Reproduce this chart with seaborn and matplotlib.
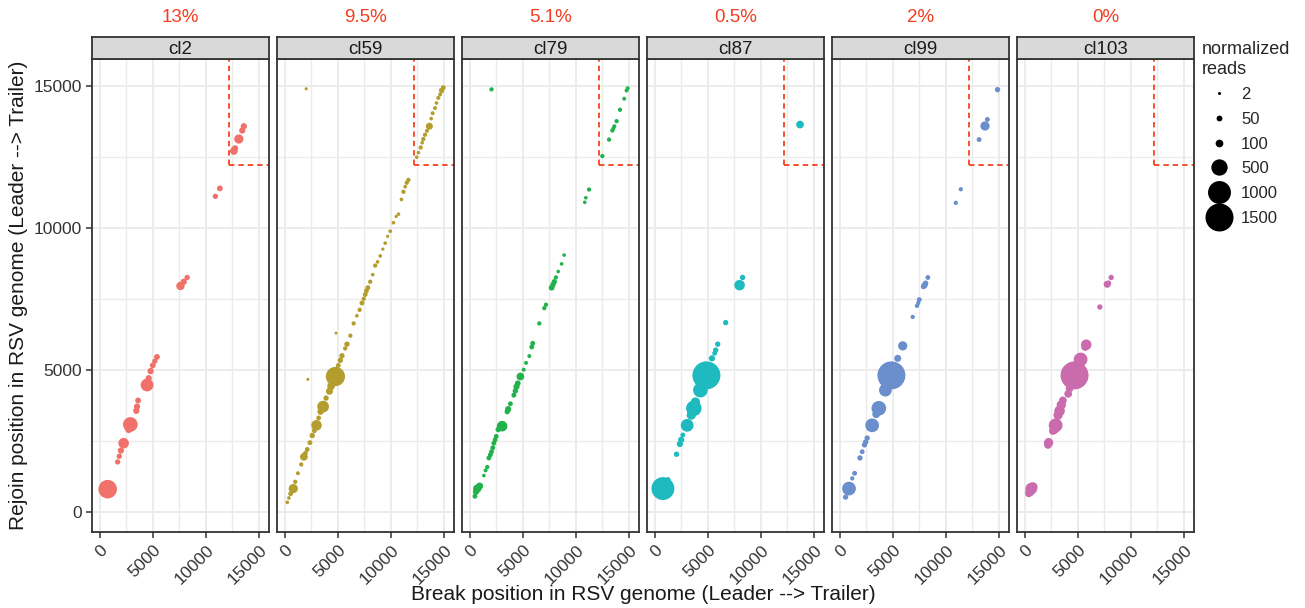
import numpy as np
import pandas as pd
import matplotlib
matplotlib.use("Agg")
import matplotlib.pyplot as plt
from matplotlib.lines import Line2D
import seaborn as sns

# --- Daten ---
clusters = ["cl2", "cl59", "cl79", "cl87", "cl99", "cl103"]
percent_labels = ["13%", "9.5%", "5.1%", "0.5%", "2%", "0%"]
colors = ["#F0716A", "#B39D2E", "#22B24C", "#1EBABF", "#6B8FCC", "#C96BAC"]

cl2_break = [755, 1700, 1850, 2000, 2260, 2740, 2890, 3450, 3520, 3620, 4300, 4465, 4620, 4800,
             5000, 5200, 5400, 7610, 7920, 8240, 10900, 11320, 12640, 12750, 13110, 13430, 13580]
cl2_rejoin = [790, 1750, 1950, 2150, 2410, 2890, 3070, 3550, 3700, 3915, 4400, 4460, 4700, 4950,
              5150, 5300, 5450, 7950, 8100, 8250, 11110, 11390, 12710, 12800, 13130, 13430, 13580]
cl2_reads = [650, 40, 40, 60, 200, 80, 400, 60, 60, 50, 80, 300, 60, 60,
             50, 40, 50, 120, 60, 40, 40, 50, 100, 60, 150, 60, 60]

cl59_break = [2030, 4840, 2190, 250, 400, 560, 810, 1000, 1250, 1560, 1810, 1950, 2130, 2380, 2600,
              2800, 3000, 3200, 3375, 3625, 3900, 4220, 4375, 4780, 5050, 5250, 5400, 5700, 5870,
              6190, 6500, 6800, 7060, 7280, 7450, 7590, 7700, 7840, 8060, 8300, 8530, 8750, 9000,
              9250, 9470, 9700, 9940, 10250, 10500, 10720, 11000, 11190, 11350, 11500, 11660,
              12440, 12600, 12810, 12950, 13060, 13220, 13400, 13630, 13800, 13940, 14160, 14300,
              14470, 14650, 14780, 14940]
cl59_rejoin = [14900, 6290, 4660, 325, 480, 630, 810, 1050, 1350, 1660, 1930, 2050, 2190, 2430, 2680,
               2850, 3040, 3300, 3520, 3700, 4000, 4240, 4420, 4760, 5150, 5330, 5490, 5750, 5900,
               6200, 6630, 6900, 7110, 7350, 7500, 7650, 7780, 7890, 8100, 8350, 8670, 8800, 9010,
               9250, 9460, 9700, 9880, 10180, 10400, 10480, 11000, 11270, 11450, 11590, 11690,
               12490, 12650, 12830, 13000, 13130, 13280, 13420, 13580, 13850, 14040, 14220, 14400,
               14580, 14700, 14840, 14940]
cl59_reads = [4, 2, 2, 10, 10, 30, 150, 20, 15, 20, 100, 30, 30, 30, 40,
              30, 200, 30, 60, 250, 40, 80, 100, 700, 30, 40, 40, 20, 40,
              20, 20, 10, 20, 30, 20, 30, 30, 30, 20, 10, 20, 10, 10,
              5, 10, 5, 10, 10, 5, 10, 10, 20, 10, 20, 20,
              10, 10, 20, 10, 20, 20, 15, 80, 10, 15, 15, 10,
              15, 15, 40, 30]

cl79_break = [2060, 500, 600, 720, 940, 1340, 1500, 1660, 1810, 1950, 2060, 2180, 2280, 2400, 2500,
              2690, 3060, 3540, 3625, 3840, 4160, 4300, 4410, 4530, 4780, 5090, 5310, 5620, 5850,
              5940, 6560, 7030, 7190, 7720, 7850, 7970, 8120, 8340, 8660, 8900, 10840, 10940,
              11250, 12500, 13130, 13440, 13540, 13630, 13840, 14160, 14560, 14780, 14880]
cl79_rejoin = [14880, 540, 700, 810, 900, 1270, 1450, 1570, 1890, 2000, 2110, 2250, 2410, 2530, 2650,
               2890, 3010, 3520, 3610, 3800, 4100, 4250, 4400, 4520, 4760, 5000, 5240, 5480, 5800,
               5930, 6630, 7170, 7290, 7890, 8000, 8100, 8250, 8460, 8730, 9040, 10900, 11060,
               11350, 12530, 13110, 13430, 13500, 13580, 13760, 14160, 14550, 14840, 14920]
cl79_reads = [20, 30, 60, 120, 80, 10, 15, 20, 30, 30, 30, 30, 30, 30, 30,
              40, 200, 40, 60, 30, 30, 40, 60, 50, 100, 15, 15, 15, 30,
              30, 20, 20, 20, 50, 40, 40, 20, 10, 10, 10, 10, 10,
              20, 20, 20, 20, 15, 15, 20, 20, 15, 15, 15]

cl87_break = [13690, 780, 1250, 2060, 2375, 2500, 2650, 3060, 3450, 3690, 3840, 4310, 4875,
              5400, 5650, 5750, 5940, 6690, 8000, 8280]
cl87_rejoin = [13640, 810, 1120, 2020, 2380, 2530, 2700, 3040, 3400, 3640, 3860, 4280, 4800,
               5400, 5580, 5690, 5900, 6660, 7980, 8250]
cl87_reads = [100, 1000, 40, 40, 60, 60, 30, 300, 150, 450, 150, 400, 1500,
              60, 30, 40, 40, 40, 200, 40]

cl99_break = [14870, 13690, 13910, 13130, 10940, 11410, 8310, 8100, 8000, 7900, 7500, 7400, 7280,
              6880, 5940, 5470, 4875, 4310, 3690, 3560, 3440, 3060, 2590, 2450, 2340, 2120, 1910,
              1410, 1190, 880, 560]
cl99_rejoin = [14870, 13590, 13820, 13110, 10880, 11360, 8250, 8050, 7980, 7930, 7470, 7350, 7250,
               6860, 5840, 5400, 4800, 4280, 3640, 3540, 3430, 3040, 2590, 2450, 2350, 2110, 1890,
               1350, 1170, 810, 510]
cl99_reads = [40, 150, 30, 30, 20, 20, 30, 40, 60, 40, 30, 20, 20,
              20, 150, 80, 1500, 300, 400, 100, 100, 350, 40, 40, 40, 30, 40,
              30, 20, 350, 40]

cl103_break = [8150, 7770, 7900, 7080, 5800, 5700, 5270, 5150, 4700, 4230, 4100, 3600, 3450, 3290,
               3150, 2920, 2800, 2660, 2260, 2200, 630, 780, 380, 500]
cl103_rejoin = [8250, 8010, 8050, 7210, 5880, 5800, 5360, 5200, 4800, 4340, 4150, 3920, 3760, 3550,
                3400, 3040, 2900, 2840, 2430, 2350, 810, 870, 630, 700]
cl103_reads = [40, 80, 40, 40, 200, 100, 350, 150, 1500, 100, 100, 100, 150, 200,
               150, 350, 150, 100, 150, 100, 250, 150, 80, 150]

legend_values = [2, 50, 100, 500, 1000, 1500]
threshold = 12200

breaks = [cl2_break, cl59_break, cl79_break, cl87_break, cl99_break, cl103_break]
rejoins = [cl2_rejoin, cl59_rejoin, cl79_rejoin, cl87_rejoin, cl99_rejoin, cl103_rejoin]
reads = [cl2_reads, cl59_reads, cl79_reads, cl87_reads, cl99_reads, cl103_reads]

df = pd.concat([pd.DataFrame({"cluster": c, "break": b, "rejoin": r, "reads": n})
                for c, b, r, n in zip(clusters, breaks, rejoins, reads)], ignore_index=True)

# --- Layout ---
sns.set_theme(style="white")
plt.rcParams["font.family"] = ["Liberation Sans", "DejaVu Sans"]

W, H = 1305, 608
fig = plt.figure(figsize=(W / 100, H / 100), dpi=100)
lefts = [92, 277, 462, 647, 832, 1017]
pw, top, bottom = 177, 59, 532
size_range = (4.7, 406)
size_norm = (2, 1500)
lim = (-720, 15950)
dark = "#333333"

for i, cl in enumerate(clusters):
    left = lefts[i]
    ax = fig.add_axes([left / W, (H - bottom) / H, pw / W, (bottom - top) / H])
    sub = df[df["cluster"] == cl]
    sns.scatterplot(data=sub, x="break", y="rejoin", size="reads", sizes=size_range,
                    size_norm=size_norm, color=colors[i], linewidth=0, legend=False, ax=ax,
                    zorder=3)
    # rote Markierung oben rechts
    ax.plot([threshold, threshold], [threshold, 17000], color="#F4431F", lw=1.3,
            ls=(0, (3, 2.2)), zorder=2)
    ax.plot([threshold, 17000], [threshold, threshold], color="#F4431F", lw=1.3,
            ls=(0, (3, 2.2)), zorder=2)
    ax.set_xlim(lim)
    ax.set_ylim(lim)
    ax.set_xticks([0, 5000, 10000, 15000])
    ax.set_yticks([0, 5000, 10000, 15000])
    ax.set_xticks([2500, 7500, 12500], minor=True)
    ax.set_yticks([2500, 7500, 12500], minor=True)
    ax.grid(True, which="major", color="#EBEBEB", lw=1.3)
    ax.grid(True, which="minor", color="#EBEBEB", lw=1.0)
    ax.set_axisbelow(True)
    for s in ax.spines.values():
        s.set_color(dark)
        s.set_linewidth(1.3)
    ax.set_xlabel("")
    ax.set_ylabel("")
    ax.tick_params(axis="both", which="major", direction="out", length=4, width=1.1,
                   color=dark, labelcolor=dark, labelsize=12.5)
    ax.tick_params(axis="both", which="minor", length=0)
    ax.tick_params(axis="x", bottom=True)
    plt.setp(ax.get_xticklabels(), rotation=45, ha="right", rotation_mode="anchor")
    if i == 0:
        ax.tick_params(axis="y", left=True)
    else:
        ax.tick_params(axis="y", left=False, labelleft=False)

    # Streifen mit Clustername
    sax = fig.add_axes([left / W, (H - top) / H, pw / W, 22 / H])
    sax.set_facecolor("#D9D9D9")
    sax.set_xticks([])
    sax.set_yticks([])
    for s in sax.spines.values():
        s.set_color(dark)
        s.set_linewidth(1.3)
    sax.text(0.5, 0.45, cl, ha="center", va="center", fontsize=13.5, color="#1A1A1A",
             transform=sax.transAxes)

    fig.text((left + pw / 2) / W, 1 - 17 / H, percent_labels[i], color="#F23D1F",
             ha="center", va="center", fontsize=13.5)

fig.text(643 / W, 1 - 595 / H, "Break position in RSV genome (Leader --> Trailer)",
         ha="center", va="center", fontsize=15, color="#1A1A1A")
fig.text(19 / W, 1 - 295 / H, "Rejoin position in RSV genome (Leader --> Trailer)",
         ha="center", va="center", rotation=90, fontsize=15, color="#1A1A1A")

# Legende fuer Punktgroessen
def area(v):
    return size_range[0] + (v - size_norm[0]) / (size_norm[1] - size_norm[0]) * (size_range[1] - size_range[0])

handles = [Line2D([], [], marker="o", ls="", color="black", markeredgewidth=0,
                  markersize=np.sqrt(area(v))) for v in legend_values]
fig.legend(handles, [str(v) for v in legend_values], title="normalized\nreads",
           loc="upper left", bbox_to_anchor=(1202 / W, 1 - 41 / H), frameon=False,
           fontsize=12, title_fontsize=13, labelspacing=0.58, handletextpad=0.35,
           borderaxespad=0, borderpad=0, alignment="left")

fig.savefig("out.png", dpi=100)
